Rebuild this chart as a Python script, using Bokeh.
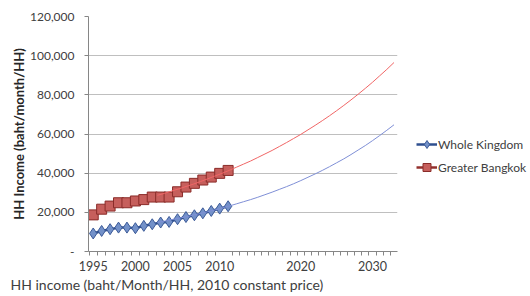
from bokeh.plotting import figure
from bokeh.models import (Range1d, FixedTicker, NumeralTickFormatter, Legend,
                          LegendItem, Title)
from bokeh.embed import file_html
from bokeh.resources import INLINE

# ---- data ----
years = list(range(1995, 2012))
whole_kingdom = [9200, 10500, 11400, 12200, 12200, 11900, 13100, 13900, 14800,
                 15100, 16500, 17600, 18500, 19500, 20700, 21900, 23100]
greater_bangkok = [18700, 21600, 23200, 24900, 24900, 25800, 26500, 27800, 27800,
                   27800, 30500, 32900, 34800, 36500, 38000, 39900, 41400]

trend_years = list(range(2000, 2034))
trend_kingdom = [14900, 15500, 16300, 17000, 17700, 18600, 19400, 20300, 21200,
                 22200, 23200, 24300, 25400, 26500, 27700, 29000, 30300, 31700,
                 33100, 34600, 36200, 37900, 39600, 41400, 43300, 45300, 47300,
                 49500, 51800, 54100, 56600, 59200, 61900, 64700]
trend_bangkok = [28700, 29700, 30900, 32000, 33200, 34400, 35700, 37100, 38500,
                 39900, 41400, 43000, 44600, 46200, 48000, 49800, 51600, 53600,
                 55600, 57700, 59800, 62100, 64400, 66800, 69300, 71900, 74600,
                 77400, 80300, 83300, 86400, 89700, 93000, 96500]

hist_labels = [1995, 2000, 2005, 2010]
trend_labels = [2020, 2030]
y_ticks = [0, 20000, 40000, 60000, 80000, 100000, 120000]

series_names = ["Whole Kingdom", "Greater Bangkok"]
x_title = "HH income (baht/Month/HH, 2010 constant price)"
y_title = "HH Income (baht/month/HH)"

# ---- ranges (two overlaid charts with different year scales) ----
main_start, main_end = 1994.44, 2031.09
trend_start, trend_end = 1990.39, 2033.49


def trend_to_main(t):
    return main_start + (t - trend_start) * (main_end - main_start) / (trend_end - trend_start)


FONT = "Lato"
TXT = "#404040"

p = figure(frame_width=309, frame_height=235, output_backend="svg",
           toolbar_location=None,
           x_range=Range1d(main_start, main_end), y_range=Range1d(0, 120000),
           min_border_left=88, min_border_right=133, min_border_top=16,
           min_border_bottom=0)
p.extra_x_ranges = {"trend": Range1d(trend_start, trend_end)}
p.outline_line_color = None
p.background_fill_color = "white"
p.border_fill_color = "white"

# grid
p.xgrid.grid_line_color = None
p.ygrid.grid_line_color = "#bfbfbf"
p.ygrid.grid_line_width = 1

# x axis
trend_pos = [round(trend_to_main(t), 4) for t in trend_labels]
minor = [y - 0.5 for y in range(1995, 2011)] + \
        [round(trend_to_main(t - 0.5), 4) for t in range(2011, 2035)]
xa = p.xaxis[0]
xa.ticker = FixedTicker(ticks=hist_labels + trend_pos, minor_ticks=minor)
xa.major_label_overrides = {tp: str(t) for tp, t in zip(trend_pos, trend_labels)}
xa.major_tick_in = 0
xa.major_tick_out = 0
xa.minor_tick_in = 0
xa.minor_tick_out = 4
xa.minor_tick_line_color = "#868686"
xa.axis_line_color = "#868686"
xa.major_label_text_font = FONT
xa.major_label_text_font_size = "12.5px"
xa.major_label_text_color = TXT
xa.major_label_standoff = 5

# y axis
ya = p.yaxis[0]
ya.ticker = FixedTicker(ticks=y_ticks)
ya.formatter = NumeralTickFormatter(format="0,0")
ya.major_label_overrides = {0: "-"}
ya.major_tick_in = 0
ya.major_tick_out = 4
ya.minor_tick_out = 0
ya.minor_tick_in = 0
ya.major_tick_line_color = "#868686"
ya.axis_line_color = "#868686"
ya.major_label_text_font = FONT
ya.major_label_text_font_size = "12px"
ya.major_label_text_color = TXT
ya.major_label_standoff = 10
ya.axis_label = y_title
ya.axis_label_text_font = FONT
ya.axis_label_text_font_style = "bold"
ya.axis_label_text_font_size = "13px"
ya.axis_label_text_color = "#262626"
ya.axis_label_standoff = 0

# historical series
bl = p.line(years, whole_kingdom, line_color="#2f4f8f", line_width=2.5)
bm = p.scatter(years, whole_kingdom, marker="diamond", size=11,
               fill_color="#7391c9", line_color="#3b5a98", line_width=1)
rl = p.line(years, greater_bangkok, line_color="#93302d", line_width=2.5)
rm = p.scatter(years, greater_bangkok, marker="square", size=10,
               fill_color="#c65f5c", line_color="#8a2c29", line_width=1)

# trend curves (overlaid chart with its own year scale)
p.line(trend_years, trend_kingdom, x_range_name="trend",
       line_color="#7f8fd6", line_width=1)
p.line(trend_years, trend_bangkok, x_range_name="trend",
       line_color="#f06666", line_width=1)

legend = Legend(items=[LegendItem(label=series_names[0], renderers=[bl, bm]),
                       LegendItem(label=series_names[1], renderers=[rl, rm])],
                location=(19, 74), padding=0, margin=0, spacing=3,
                glyph_width=21, glyph_height=20, label_height=20,
                label_standoff=1, background_fill_alpha=0,
                border_line_color=None,
                label_text_font=FONT, label_text_font_size="12px",
                label_text_color=TXT)
p.add_layout(legend, "right")

p.add_layout(Title(text=x_title, align="left", offset=-78, standoff=0,
                   text_font=FONT, text_font_size="14px",
                   text_font_style="normal", text_color=TXT), "below")

open("out.html", "w").write(file_html(p, INLINE))
